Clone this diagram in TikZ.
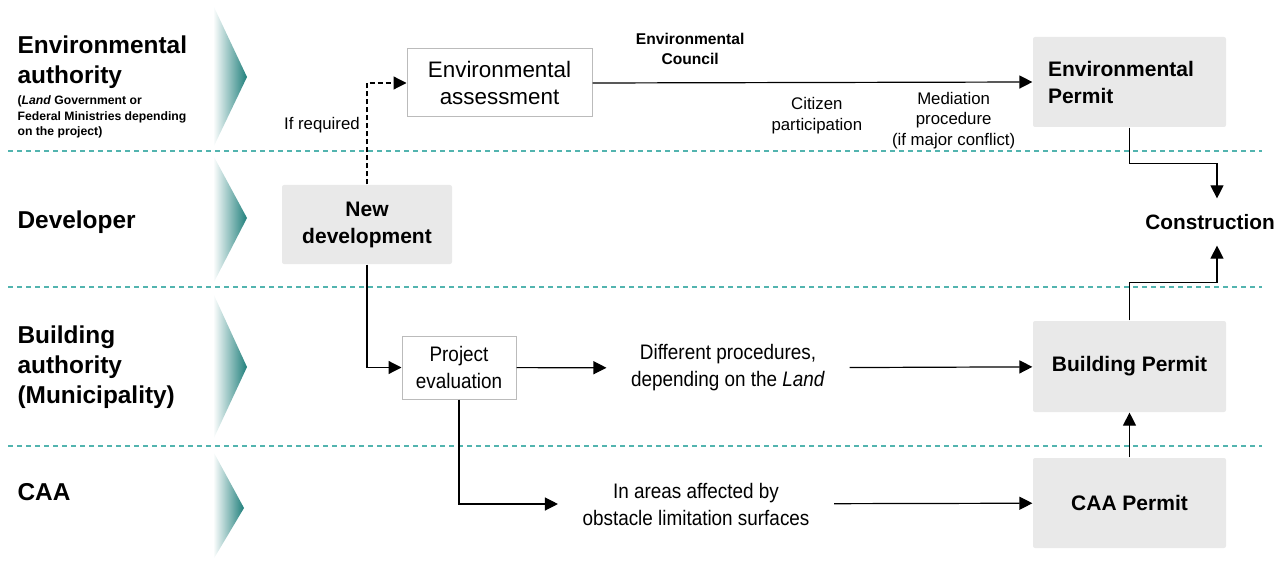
\documentclass[tikz,border=0pt]{standalone}
\usepackage{fontspec}
\setmainfont{Liberation Sans}
\newfontfamily\narrowfont[FakeStretch=0.9]{Liberation Sans}
\usepackage{tikz}
\usetikzlibrary{arrows.meta,positioning}

\definecolor{laneteal}{HTML}{1F7F7B}
\definecolor{lanedash}{HTML}{52B4AF}
\definecolor{permitgray}{HTML}{E9E9E9}
\definecolor{boxedge}{HTML}{BBBBBB}

\newcommand{\fsz}[2]{\fontsize{#1}{#2}\selectfont}

\begin{document}
\begin{tikzpicture}[x=0.5pt,y=-0.5pt,line width=0.6pt,>={Triangle[length=6.5pt,width=6.5pt]}]
  \tikzstyle{lane}=[draw=lanedash,line width=0.6pt,dash pattern=on 2.5pt off 2pt]
  \tikzstyle{chevron}=[left color=white,middle color=laneteal!25,right color=laneteal]
  \tikzstyle{lanehead}=[anchor=west,align=left,inner sep=0pt,font=\bfseries\fsz{12.2}{15}]
  \tikzstyle{lanesub}=[align=left,inner sep=0pt,font=\bfseries\fsz{6.1}{7.7}]
  \tikzstyle{stepbox}=[draw=boxedge,fill=white,line width=0.5pt,align=center]
  \tikzstyle{permit}=[fill=permitgray,rounded corners=1pt,align=center,
                      minimum width=96.5pt,minimum height=45pt,font=\bfseries\fsz{10.5}{13.5}]
  \tikzstyle{note}=[align=center,font=\fsz{8.4}{10.3}]
  \tikzstyle{procnote}=[align=center,inner xsep=12pt,font=\narrowfont\fsz{10.5}{13.5}]

  \useasboundingbox (0,0) rectangle (1288,561);

  % lane markers and separators
  \foreach \t/\m/\b/\x in {5/77/148/247,155/218/284/247,293/367/440/247,451/508/560/244}
    \shade[chevron] (213,\t) -- (\x,\m) -- (213,\b) -- cycle;
  \foreach \y in {151,287,446}
    \draw[lane] (8,\y) -- (1262,\y);

  % lane headers
  \node[lanehead, anchor=north west] (envhead) at (17,35.5) {Environmental\\authority};
  \node[lanesub, below=3pt of envhead.south west, anchor=north west] (envsub)
       {(\textit{Land} Government or\\Federal Ministries depending\\on the project)};
  \node[lanehead] (devhead) at (17,222) {Developer};
  \node[lanehead] (bldhead) at (17,367) {Building\\authority\\(Municipality)};
  \node[lanehead] (caahead) at (17,492) {CAA};

  % steps
  \node[stepbox, minimum width=92.5pt, minimum height=34pt, font=\fsz{11.2}{13.5}] (assess) at (499.5,83) {Environmental\\assessment};
  \node[permit, minimum width=85pt, minimum height=39.5pt] (newdev) at (367,224.5) {New\\development};
  \node[stepbox, minimum width=57pt, minimum height=31.5pt, font=\narrowfont\fsz{10.5}{13.5}] (projeval) at (459,367.5) {Project\\evaluation};
  \node[procnote] (diffproc) at (728,368) {Different procedures,\\depending on the \textit{Land}};
  \node[procnote] (obstacle) at (696,504) {In areas affected by\\obstacle limitation surfaces};

  % permits
  \node[permit, align=left, inner xsep=7.5pt, text width=81.5pt] (envpermit) at (1129.5,82) {Environmental\\Permit};
  \node[permit, minimum height=45.5pt] (bldpermit) at (1129.5,366.5) {Building Permit};
  \node[permit] (caapermit) at (1129.5,503) {CAA Permit};
  \node[font=\bfseries\fsz{10.4}{13}, minimum height=23pt, inner sep=0pt] (constr) at (1210,222) {Construction};

  % connections
  \draw[->, dash pattern=on 2.5pt off 1.5pt] (newdev.north) |- node[pos=0.29, left, note] {If required} (assess.west);
  \draw[->] (assess.east) -- node[pos=0.222, above=5.5pt, note, font=\bfseries\fsz{7.8}{10}] {Environmental\\Council}
                             node[pos=0.51, below=4pt, note] {Citizen\\participation}
                             node[pos=0.821, below=1.2pt, note] {Mediation\\procedure\\(if major conflict)} (envpermit.west);
  \draw[->] (newdev.south) |- (projeval.west);
  \draw[->] (projeval.south) |- (obstacle.west);
  \path[->]
  (projeval) edge (diffproc)
  (diffproc) edge (bldpermit)
  (obstacle) edge (caapermit)
  (caapermit) edge (bldpermit);
  \draw[->] (envpermit.south) -- ++(0,36) -| ([xshift=3.5pt]constr.north);
  \draw[->] (bldpermit.north) -- ++(0,-38) -| ([xshift=3.5pt]constr.south);
\end{tikzpicture}
\end{document}
